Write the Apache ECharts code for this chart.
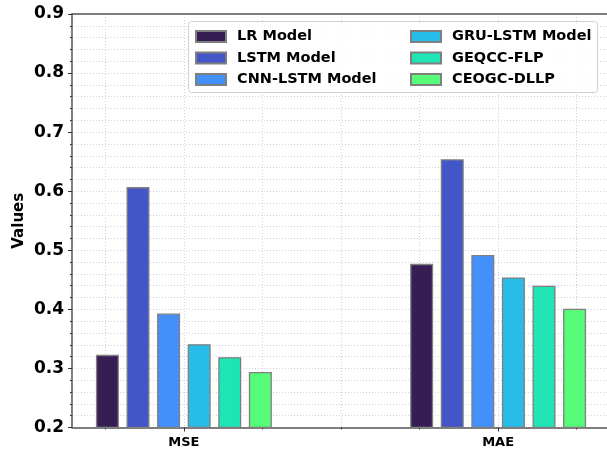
<!DOCTYPE html>
<html>
<head>
<meta charset="utf-8">
<script src="https://cdn.jsdelivr.net/npm/echarts@6/dist/echarts.min.js"></script>
<style>
  html, body { margin: 0; padding: 0; background: #fff; }
  #chart { width: 607px; height: 453px; }
</style>
</head>
<body>
<div id="chart"></div>
<script>
  // metrics on the x axis (positions 0 and 1)
  var metrics = ['MSE', 'MAE'];
  var metricPos = [0, 1];
  var minorPos = [-0.25, 0.25, 0.5, 0.75, 1.25];
  var models = ['LR Model', 'LSTM Model', 'CNN-LSTM Model', 'GRU-LSTM Model', 'GEQCC-FLP', 'CEOGC-DLLP'];
  var mseValues = [0.323, 0.607, 0.393, 0.341, 0.319, 0.294];
  var maeValues = [0.477, 0.654, 0.492, 0.454, 0.440, 0.401];
  var yTicks = [0.2, 0.3, 0.4, 0.5, 0.6, 0.7, 0.8, 0.9];
  var colors = ['#361d54', '#4356c8', '#4390fb', '#28bde8', '#1ee5b3', '#56fb78'];

  var font = 'DejaVu Sans';
  var gridLine = { color: '#cfcfea', type: [1, 2], width: 1 };

  var myChart = echarts.init(document.getElementById('chart'));

  var series = models.map(function (name, i) {
    return {
      name: name,
      type: 'bar',
      xAxisIndex: 0,
      barWidth: 23,
      barGap: '33%',
      data: [[metricPos[0], mseValues[i]], [metricPos[1], maeValues[i]]],
      itemStyle: { color: colors[i], borderColor: '#7f7f7f', borderWidth: 1.3 }
    };
  });

  var legendCommon = {
    orient: 'vertical',
    itemWidth: 30,
    itemHeight: 11,
    itemGap: 6.5,
    icon: 'rect',
    textStyle: { fontFamily: font, fontWeight: 'bold', fontSize: 14.5, color: '#000', padding: [0, 0, 0, 6], lineHeight: 15 }
  };

  var option = {
    animation: false,
    grid: { left: 72, right: -3, top: 14, bottom: 25.5, outerBoundsMode: 'none' },
    graphic: [{
      type: 'rect',
      z: 3,
      shape: { x: 188.5, y: 21.5, width: 409, height: 71, r: 3 },
      style: { fill: 'rgba(255,255,255,0.85)', stroke: '#d0d0d0', lineWidth: 1 }
    }],
    legend: [
      Object.assign({ left: 190, top: 24, data: models.slice(0, 3) }, legendCommon),
      Object.assign({ left: 405, top: 24, data: models.slice(3) }, legendCommon)
    ],
    xAxis: [
      {
        type: 'value',
        position: 'bottom',
        min: -0.356,
        max: 1.356,
        axisLine: { show: true, onZero: false, lineStyle: { color: '#555', width: 1.5 } },
        axisTick: { show: true, length: 4, customValues: metricPos, lineStyle: { color: '#333' } },
        axisLabel: {
          customValues: metricPos,
          margin: 9,
          fontFamily: font, fontWeight: 'bold', fontSize: 13, color: '#000',
          formatter: function (v) { return metrics[metricPos.indexOf(Math.round(v))] || ''; }
        },
        splitLine: { show: true, lineStyle: gridLine }
      },
      {
        type: 'value',
        position: 'bottom',
        min: -0.356,
        max: 1.356,
        axisLine: { show: false, onZero: false },
        axisTick: { show: true, length: 2, customValues: minorPos, lineStyle: { color: '#333' } },
        axisLabel: { show: false, customValues: minorPos },
        splitLine: { show: true, lineStyle: gridLine }
      },
      {
        type: 'value',
        position: 'top',
        min: -0.356,
        max: 1.356,
        axisLine: { show: true, onZero: false, lineStyle: { color: '#555', width: 1.5 } },
        axisTick: { show: false },
        axisLabel: { show: false },
        splitLine: { show: false }
      }
    ],
    yAxis: {
      type: 'value',
      min: yTicks[0],
      max: yTicks[yTicks.length - 1],
      interval: 0.1,
      name: 'Values',
      nameLocation: 'middle',
      nameGap: 45,
      nameMoveOverlap: false,
      nameTextStyle: { fontFamily: font, fontWeight: 'bold', fontSize: 15, color: '#000' },
      axisLine: { show: true, onZero: false, lineStyle: { color: '#555', width: 1.5 } },
      axisTick: { show: true, length: 4, lineStyle: { color: '#333' } },
      minorTick: { show: true, splitNumber: 5, length: 2, lineStyle: { color: '#333' } },
      axisLabel: {
        margin: 8,
        fontFamily: font, fontWeight: 'bold', fontSize: 17, color: '#000',
        formatter: function (v) { return v.toFixed(1); }
      },
      splitLine: { show: true, lineStyle: gridLine },
      minorSplitLine: { show: true, lineStyle: gridLine }
    },
    series: series
  };

  myChart.setOption(option);
</script>
</body>
</html>
